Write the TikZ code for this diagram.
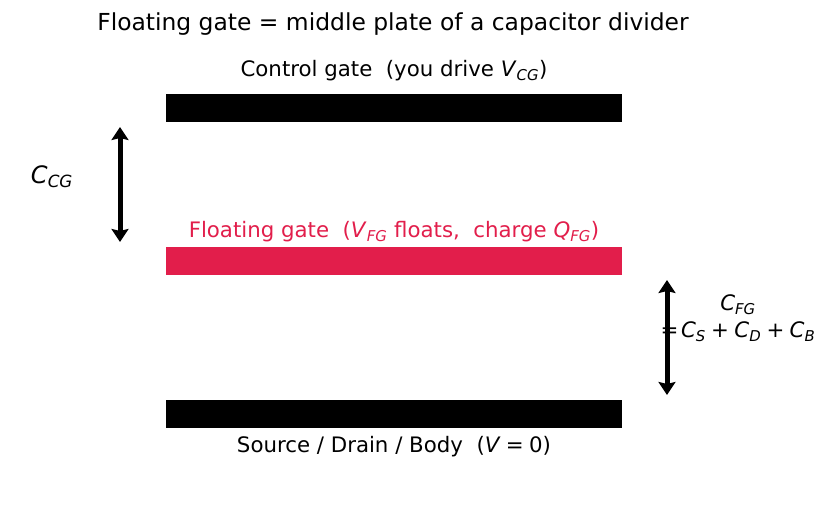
\documentclass[tikz,border=0pt]{standalone}
\usepackage{fontspec}
\setmainfont{DejaVu Sans}
\usetikzlibrary{arrows.meta, positioning}
\definecolor{fgred}{HTML}{E21E4B}
\newcommand{\capvar}[2]{\textit{#1}\textsubscript{\textit{#2}}}
\newcommand{\opsp}[1]{\hspace{0.25em}#1\hspace{0.25em}}
\tikzset{
    plate/.style={rectangle, minimum width=456pt, minimum height=28pt, inner sep=0pt},
    lbl/.style={font=\fontsize{21.3}{25}\selectfont, inner sep=0pt},
    caparrow/.style={{Stealth[length=13pt,width=17pt,inset=2pt]}-{Stealth[length=13pt,width=17pt,inset=2pt]}, line width=5pt}
}
\begin{document}
\begin{tikzpicture}[x=1pt, y=-1pt]
    \useasboundingbox[fill=white] (0,0) rectangle (828,510);
    \node[font=\fontsize{23.4}{28}\selectfont] (title) at (393,24) {Floating gate = middle plate of a capacitor divider};

    % the three plates
    \node[plate, fill=black] (cg) at (394,108) {};
    \node[plate, fill=fgred] (fg) at (394,261) {};
    \node[plate, fill=black] (sdb) at (394,414) {};

    \node[lbl] (cglbl) at (394,71) {Control gate\ \ (you drive \capvar{V}{CG})};
    \node[lbl, text=fgred] (fglbl) at (394,232) {Floating gate\ \ (\capvar{V}{FG} floats,\ \ charge \capvar{Q}{FG})};
    \node[lbl] (sdblbl) at (394,447) {Source / Drain / Body\ \ (\textit{V}\opsp{=}0)};

    % capacitances
    \coordinate (ccgtop) at (120,127);
    \coordinate (ccgbot) at (120,242);
    \draw[caparrow] (ccgtop) -- (ccgbot);
    \node[font=\fontsize{24}{28}\selectfont] (ccg) at (52,177) {\capvar{C}{CG}};

    \coordinate (cfgtop) at (667,280);
    \coordinate (cfgbot) at (667,395);
    \draw[caparrow] (cfgtop) -- (cfgbot);
    \node[lbl, align=center, font=\fontsize{21.3}{27}\selectfont] (cfg) at (738,318) {\capvar{C}{FG}\\=\hspace{0.12em}\capvar{C}{S}\opsp{+}\capvar{C}{D}\opsp{+}\capvar{C}{B}};
\end{tikzpicture}
\end{document}
